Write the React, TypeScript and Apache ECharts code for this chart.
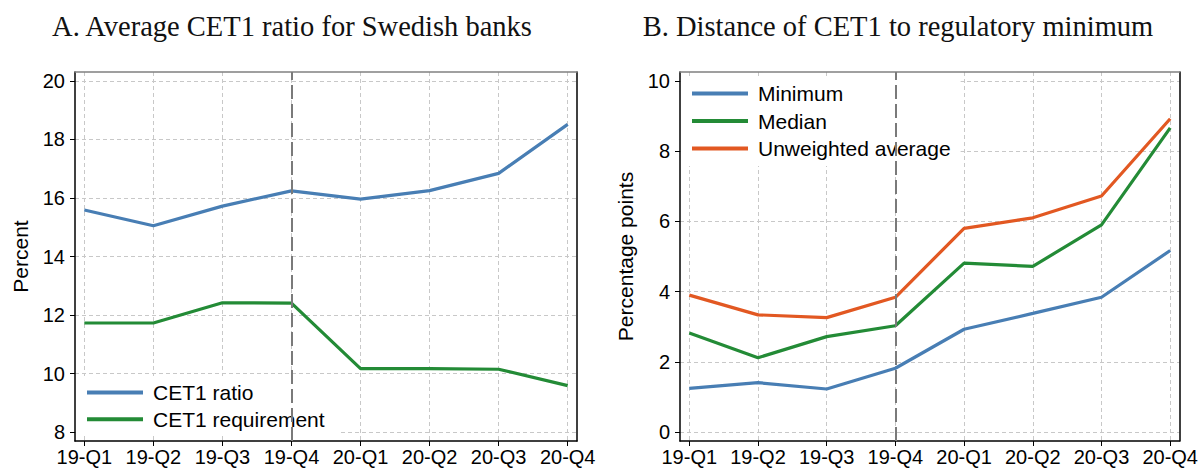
import React, { useEffect, useRef } from "react";
import * as echarts from "echarts";

const categories = ["19-Q1", "19-Q2", "19-Q3", "19-Q4", "20-Q1", "20-Q2", "20-Q3", "20-Q4"];
const cet1Ratio = [15.59, 15.05, 15.72, 16.24, 15.96, 16.25, 16.84, 18.51];
const cet1Requirement = [11.73, 11.73, 12.42, 12.41, 10.17, 10.17, 10.15, 9.59];
const minimum = [1.25, 1.41, 1.23, 1.82, 2.93, 3.38, 3.84, 5.17];
const median = [2.82, 2.12, 2.72, 3.03, 4.81, 4.72, 5.9, 8.66];
const unweightedAverage = [3.9, 3.34, 3.26, 3.84, 5.8, 6.1, 6.72, 8.92];
const ticksA = [8, 10, 12, 14, 16, 18, 20];
const ticksB = [0, 2, 4, 6, 8, 10];
const refCategory = "19-Q4";
const titleA = "A. Average CET1 ratio for Swedish banks";
const titleB = "B. Distance of CET1 to regulatory minimum";

const SANS = "'Liberation Sans', Arial, sans-serif";
const SERIF = "'Liberation Serif', 'Times New Roman', serif";
const BLUE = "#487EB4";
const GREEN = "#238B36";
const ORANGE = "#E25822";

const xIdx = categories.map((_, i) => i);
const toPairs = (vals: number[]) => vals.map((v, i) => [i, v]);

export default function App() {
  const ref = useRef<HTMLDivElement>(null);
  useEffect(() => {
    if (!ref.current) return;
    const chart = echarts.init(ref.current, undefined, { renderer: "svg" });
    const refIdx = categories.indexOf(refCategory);

    const splitLine = { show: true, lineStyle: { color: "#c8c8c8", type: [4, 3], width: 1 } };
    const xMain = (gridIndex: number) => ({
      type: "value",
      gridIndex,
      min: -0.135,
      max: categories.length - 1 + 0.135,
      minInterval: 1,
      maxInterval: 1,
      axisLine: { show: true, onZero: false, lineStyle: { color: "#000", width: 1.5 } },
      axisTick: { show: true, length: 5, customValues: xIdx, lineStyle: { color: "#000", width: 1 } },
      axisLabel: {
        show: true,
        customValues: xIdx,
        formatter: (v: number) => categories[Math.round(v)] ?? "",
        fontSize: 20,
        fontFamily: SANS,
        color: "#000",
        margin: 6,
      },
      splitLine,
    });
    const xTop = (gridIndex: number) => ({
      type: "value",
      gridIndex,
      position: "top",
      min: -0.135,
      max: categories.length - 1 + 0.135,
      axisLine: { show: true, onZero: false, lineStyle: { color: "#808080", width: 1.5 } },
      axisTick: { show: false },
      axisLabel: { show: false },
      splitLine: { show: false },
    });
    const yMain = (gridIndex: number, min: number, max: number, ticks: number[], name: string, step: number) => ({
      type: "value",
      gridIndex,
      min,
      max,
      minInterval: step,
      maxInterval: step,
      name,
      nameLocation: "middle",
      nameGap: 44,
      nameTextStyle: { fontSize: 21, fontFamily: SANS, color: "#000" },
      axisLine: { show: true, onZero: false, lineStyle: { color: "#000", width: 1.5 } },
      axisTick: { show: true, length: 5, customValues: ticks, lineStyle: { color: "#000", width: 1 } },
      axisLabel: { show: true, customValues: ticks, fontSize: 20, fontFamily: SANS, color: "#000", margin: 10 },
      splitLine,
    });
    const yRight = (gridIndex: number, min: number, max: number) => ({
      type: "value",
      gridIndex,
      position: "right",
      min,
      max,
      axisLine: { show: true, onZero: false, lineStyle: { color: "#000", width: 1.5 } },
      axisTick: { show: false },
      axisLabel: { show: false },
      splitLine: { show: false },
    });

    const refLine = {
      silent: true,
      symbol: ["none", "none"],
      label: { show: false },
      lineStyle: { color: "#7a7a7a", type: [14, 5], width: 2 },
      data: [{ xAxis: refIdx }],
    };

    const lineSeries = (name: string, vals: number[], color: string, xAxisIndex: number, yAxisIndex: number, withRef = false) => ({
      type: "line",
      name,
      data: toPairs(vals),
      xAxisIndex,
      yAxisIndex,
      color,
      showSymbol: false,
      symbol: "none",
      lineStyle: { width: 3.2, color },
      ...(withRef ? { markLine: refLine } : {}),
    });

    const legendBase = {
      orient: "vertical",
      icon: "rect",
      itemWidth: 56,
      itemHeight: 4,
      backgroundColor: "#fff",
      borderWidth: 0,
      selectedMode: false,
      textStyle: { fontSize: 21, lineHeight: 21, fontFamily: SANS, color: "#000", padding: [0, 0, 0, 5] },
    };

    chart.setOption({
      animation: false,
      backgroundColor: "#fff",
      grid: [
        { left: 75, top: 72, width: 502, height: 369, show: false },
        { left: 680, top: 72, width: 502, height: 369, show: false },
      ],
      xAxis: [xMain(0), xMain(1), xTop(0), xTop(1)],
      yAxis: [
        yMain(0, 7.7, 20.3, ticksA, "Percent", 2),
        yMain(1, -0.25, 10.25, ticksB, "Percentage points", 2),
        yRight(0, 7.7, 20.3),
        yRight(1, -0.25, 10.25),
      ],
      legend: [
        {
          ...legendBase,
          data: ["CET1 ratio", "CET1 requirement"],
          left: 76,
          top: 376,
          padding: [6, 14, 6, 11],
          itemGap: 5.7,
        },
        {
          ...legendBase,
          data: ["Minimum", "Median", "Unweighted average"],
          left: 681,
          top: 76,
          padding: [7, 10, 7, 11],
          itemGap: 6.5,
        },
      ],
      graphic: [
        {
          type: "text",
          x: 292,
          y: 26,
          style: { text: titleA, font: `28.5px ${SERIF}`, fill: "#111", textAlign: "center", textVerticalAlign: "middle" },
        },
        {
          type: "text",
          x: 898,
          y: 26,
          style: { text: titleB, font: `28.5px ${SERIF}`, fill: "#111", textAlign: "center", textVerticalAlign: "middle" },
        },
      ],
      series: [
        lineSeries("CET1 ratio", cet1Ratio, BLUE, 0, 0, true),
        lineSeries("CET1 requirement", cet1Requirement, GREEN, 0, 0),
        lineSeries("Minimum", minimum, BLUE, 1, 1, true),
        lineSeries("Median", median, GREEN, 1, 1),
        lineSeries("Unweighted average", unweightedAverage, ORANGE, 1, 1),
      ],
    });
    return () => chart.dispose();
  }, []);
  return <div ref={ref} style={{ position: "absolute", left: 0, top: 0, width: 1201, height: 469 }} />;
}
